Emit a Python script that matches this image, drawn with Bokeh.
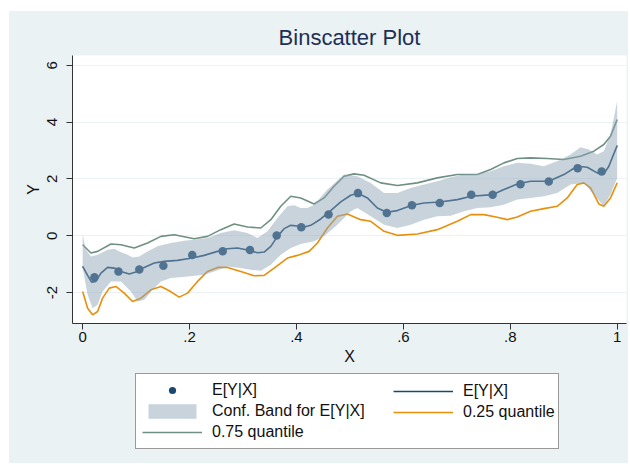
from bokeh.plotting import figure
from bokeh.layouts import column
from bokeh.models import Legend, LegendItem, FixedTicker, Range1d
from bokeh.embed import file_html
from bokeh.resources import INLINE

# ---- data ----
bin_x = [0.022, 0.067, 0.106, 0.151, 0.205, 0.262, 0.313, 0.363, 0.409, 0.460,
         0.515, 0.569, 0.616, 0.668, 0.727, 0.767, 0.819, 0.872, 0.926, 0.971]
bin_y = [-1.46, -1.26, -1.19, -1.06, -0.68, -0.55, -0.50, 0.01, 0.30, 0.75,
         1.50, 0.80, 1.07, 1.15, 1.44, 1.44, 1.81, 1.91, 2.38, 2.26]

line_x = [0.0, 0.0093, 0.0167, 0.0248, 0.0342, 0.0467, 0.0591, 0.0716, 0.0872, 0.0996,
          0.1152, 0.1339, 0.1526, 0.1775, 0.2049, 0.2274, 0.2523, 0.2710, 0.2897, 0.3084,
          0.3271, 0.3395, 0.3520, 0.3645, 0.3769, 0.3894, 0.4018, 0.4143, 0.4267, 0.4454,
          0.4641, 0.4828, 0.5015, 0.5152, 0.5326, 0.5513, 0.5688, 0.5887, 0.6161, 0.6386,
          0.6685, 0.7009, 0.7270, 0.7675, 0.7881, 0.8130, 0.8379, 0.8722, 0.9002, 0.9252,
          0.9439, 0.9625, 0.9750, 0.9844, 0.9906, 1.0]
line_y = [-1.080, -1.397, -1.632, -1.609, -1.315, -1.115, -1.139, -1.257, -1.350, -1.280,
          -1.115, -0.962, -0.904, -0.868, -0.786, -0.692, -0.551, -0.457, -0.433, -0.504,
          -0.598, -0.574, -0.374, -0.022, 0.249, 0.366, 0.343, 0.308, 0.366, 0.590,
          0.884, 1.189, 1.425, 1.495, 1.331, 0.978, 0.825, 0.884, 1.072, 1.154,
          1.189, 1.272, 1.389, 1.448, 1.624, 1.824, 1.918, 1.918, 2.153, 2.447,
          2.412, 2.212, 2.177, 2.447, 2.741, 3.177]

cb_up_x = [0.0, 0.0062, 0.0155, 0.0280, 0.0467, 0.0591, 0.0685, 0.0840, 0.0934, 0.1059,
           0.1214, 0.1401, 0.1650, 0.1900, 0.2087, 0.2336, 0.2585, 0.2834, 0.3084, 0.3271,
           0.3457, 0.3645, 0.3831, 0.3956, 0.4080, 0.4205, 0.4330, 0.4579, 0.4890, 0.5139,
           0.5389, 0.5638, 0.5887, 0.6136, 0.6386, 0.6635, 0.6884, 0.7133, 0.7383, 0.7632,
           0.7881, 0.8130, 0.8379, 0.8628, 0.8878, 0.9127, 0.9314, 0.9470, 0.9625, 0.9750,
           0.9875, 1.0]
cb_up_y = [0.037, -0.492, -0.727, -0.668, -0.492, -0.457, -0.551, -0.668, -0.763, -0.727,
           -0.551, -0.374, -0.257, -0.175, -0.139, -0.080, 0.096, 0.190, 0.096, -0.080,
           0.155, 0.625, 1.037, 1.072, 0.978, 0.978, 1.095, 1.624, 2.153, 2.095,
           1.860, 1.507, 1.507, 1.683, 1.801, 1.918, 2.060, 2.153, 2.177, 2.271,
           2.447, 2.565, 2.530, 2.447, 2.624, 2.859, 3.118, 3.035, 2.859, 2.977,
           3.565, 4.740]

cb_lo_x = [0.0, 0.0093, 0.0186, 0.0280, 0.0373, 0.0529, 0.0716, 0.0903, 0.1027, 0.1152,
           0.1339, 0.1464, 0.1650, 0.1962, 0.2274, 0.2460, 0.2710, 0.2959, 0.3146, 0.3333,
           0.3520, 0.3706, 0.3894, 0.4080, 0.4330, 0.4516, 0.4766, 0.5015, 0.5139, 0.5389,
           0.5638, 0.5887, 0.6136, 0.6386, 0.6635, 0.6884, 0.7133, 0.7383, 0.7632, 0.7881,
           0.8130, 0.8379, 0.8628, 0.8878, 0.9127, 0.9376, 0.9563, 0.9750, 0.9875, 1.0]
cb_lo_y = [-1.139, -2.079, -2.550, -2.432, -1.962, -1.609, -1.609, -1.962, -2.315, -2.256,
           -1.844, -1.609, -1.491, -1.433, -1.374, -1.257, -1.080, -1.139, -1.198, -1.233,
           -1.021, -0.668, -0.433, -0.292, -0.198, -0.022, 0.389, 0.860, 0.978, 0.684,
           0.389, 0.272, 0.389, 0.566, 0.684, 0.707, 0.860, 0.978, 1.001, 1.095,
           1.272, 1.331, 1.389, 1.507, 1.801, 1.860, 1.448, 1.037, 1.448, 2.036]

q75_x = [0.0, 0.0155, 0.0280, 0.0529, 0.0716, 0.0965, 0.1214, 0.1464, 0.1713, 0.2087,
         0.2336, 0.2585, 0.2834, 0.3084, 0.3333, 0.3520, 0.3706, 0.3894, 0.4080, 0.4330,
         0.4516, 0.4703, 0.4890, 0.5077, 0.5264, 0.5576, 0.5887, 0.6261, 0.6635, 0.7009,
         0.7383, 0.7632, 0.7881, 0.8130, 0.8379, 0.8691, 0.9002, 0.9314, 0.9563, 0.9750,
         0.9875, 1.0]
q75_y = [-0.316, -0.609, -0.551, -0.292, -0.316, -0.433, -0.257, -0.022, 0.037, -0.104,
         -0.022, 0.214, 0.413, 0.308, 0.272, 0.566, 1.037, 1.389, 1.331, 1.119,
         1.331, 1.742, 2.095, 2.177, 2.130, 1.860, 1.766, 1.860, 2.036, 2.153,
         2.153, 2.330, 2.565, 2.718, 2.741, 2.718, 2.683, 2.800, 2.977, 3.212,
         3.506, 4.094]

q25_x = [0.0, 0.0093, 0.0186, 0.0280, 0.0373, 0.0498, 0.0622, 0.0778, 0.0934, 0.1090,
         0.1277, 0.1464, 0.1619, 0.1806, 0.1962, 0.2149, 0.2336, 0.2523, 0.2710, 0.2959,
         0.3208, 0.3395, 0.3582, 0.3831, 0.4018, 0.4236, 0.4392, 0.4579, 0.4766, 0.4952,
         0.5202, 0.5389, 0.5638, 0.5887, 0.6261, 0.6635, 0.7009, 0.7258, 0.7507, 0.7756,
         0.7943, 0.8130, 0.8379, 0.8628, 0.8878, 0.9065, 0.9252, 0.9376, 0.9501, 0.9657,
         0.9750, 0.9875, 1.0]
q25_y = [-1.962, -2.550, -2.785, -2.667, -2.197, -1.844, -1.785, -2.020, -2.315, -2.197,
         -1.903, -1.785, -1.938, -2.161, -2.020, -1.609, -1.257, -1.115, -1.115, -1.257,
         -1.409, -1.397, -1.139, -0.786, -0.692, -0.551, -0.257, 0.272, 0.684, 0.766,
         0.566, 0.507, 0.155, 0.014, 0.061, 0.214, 0.507, 0.743, 0.743, 0.649,
         0.566, 0.660, 0.860, 0.954, 1.037, 1.331, 1.801, 1.860, 1.683, 1.119,
         1.037, 1.331, 1.860]

x_ticks = [0, 0.2, 0.4, 0.6, 0.8, 1]
x_tick_labels = ["0", ".2", ".4", ".6", ".8", "1"]
y_ticks = [-2, 0, 2, 4, 6]
y_tick_labels = ["-2", "0", "2", "4", "6"]

labels = ["E[Y|X]", "E[Y|X]", "Conf. Band for E[Y|X]", "0.25 quantile", "0.75 quantile"]

# ---- styling ----
BG = "#EAF2F3"
NAVY = "#1A476F"
ORANGE = "#E8900C"
GREEN = "#6F9082"
BAND = "#8CA3B6"
FONT = "Liberation Sans"
AXC = "#333333"
TXT = "#111111"

band_x = cb_up_x + cb_lo_x[::-1]
band_y = cb_up_y + cb_lo_y[::-1]

p = figure(width=619, height=359, output_backend="svg", toolbar_location=None,
           x_range=Range1d(-0.019, 1.0174), y_range=Range1d(-3.09, 6.345),
           min_border_left=63, min_border_right=2, min_border_top=44, min_border_bottom=47,
           background_fill_color="white", border_fill_color=BG, outline_line_color=None)

p.title.text = "Binscatter Plot"
p.title.align = "center"
p.title.text_font = FONT
p.title.text_font_size = "22px"
p.title.text_font_style = "normal"
p.title.text_color = "#1E2E55"
p.title.standoff = 11

band_style = dict(fill_color=BAND, fill_alpha=0.48, line_alpha=0)
dot_style = dict(size=8.5, fill_color=NAVY, line_color=NAVY, line_width=0)
q75_style = dict(line_color=GREEN, line_width=1.6)
q25_style = dict(line_color=ORANGE, line_width=1.6)
fit_style = dict(line_color=NAVY, line_width=1.6)

p.line(q75_x, q75_y, **q75_style)
p.line(q25_x, q25_y, **q25_style)
p.scatter(bin_x, bin_y, **dot_style)
p.line(line_x, line_y, **fit_style)
p.patch(band_x, band_y, **band_style)

for ax in (p.xaxis[0], p.yaxis[0]):
    ax.axis_line_color = AXC
    ax.major_tick_line_color = AXC
    ax.major_tick_out = 6
    ax.major_tick_in = 0
    ax.minor_tick_line_color = None
    ax.major_label_text_font = FONT
    ax.major_label_text_font_size = "15px"
    ax.major_label_text_color = TXT
    ax.axis_label_text_font = FONT
    ax.axis_label_text_font_size = "16px"
    ax.axis_label_text_font_style = "normal"
    ax.axis_label_text_color = TXT

p.xaxis.ticker = FixedTicker(ticks=x_ticks)
p.xaxis.major_label_overrides = dict(zip(x_ticks, x_tick_labels))
p.xaxis.axis_label = "X"
p.xaxis.major_label_standoff = 2
p.xaxis.axis_label_standoff = 3

p.yaxis.ticker = FixedTicker(ticks=y_ticks)
p.yaxis.major_label_overrides = dict(zip(y_ticks, y_tick_labels))
p.yaxis.major_label_orientation = "vertical"
p.yaxis.axis_label = "Y"
p.yaxis.major_label_standoff = 9
p.yaxis.axis_label_standoff = 3

p.xgrid.grid_line_color = None
p.ygrid.grid_line_color = BG
p.ygrid.grid_line_width = 1.2
p.ygrid.ticker = FixedTicker(ticks=y_ticks)

# ---- legend strip below the plot (its own keys, data kept out of view) ----
lf = figure(width=619, height=93, output_backend="svg", toolbar_location=None,
            x_range=Range1d(2, 3), y_range=Range1d(20, 21),
            x_axis_type=None, y_axis_type=None,
            min_border_left=0, min_border_right=0, min_border_top=0, min_border_bottom=0,
            background_fill_alpha=0, border_fill_alpha=0, outline_line_color=None)
lf.grid.visible = False

k_dots = lf.scatter(bin_x, bin_y, **dot_style)
k_band = lf.patch(band_x, band_y, **band_style)
k_q75 = lf.line(q75_x, q75_y, **q75_style)
k_line = lf.line(line_x, line_y, **fit_style)
k_q25 = lf.line(q25_x, q25_y, **q25_style)


def style_legend(lg):
    lg.label_text_font = FONT
    lg.label_text_font_size = "16px"
    lg.label_text_color = TXT
    lg.glyph_width = 60
    lg.glyph_height = 18
    lg.label_height = 20
    lg.label_standoff = 10
    lg.spacing = 1
    lg.padding = 6
    lg.margin = 0


# column 1 carries the framed box, widened to the full legend width
legend_a = Legend(items=[
    LegendItem(label=labels[0], renderers=[k_dots]),
    LegendItem(label=labels[2], renderers=[k_band]),
    LegendItem(label=labels[4], renderers=[k_q75]),
], location=(63, 14))
style_legend(legend_a)
legend_a.label_width = 340
legend_a.border_line_color = AXC
legend_a.border_line_width = 1
legend_a.background_fill_color = "white"
legend_a.background_fill_alpha = 1

# column 2 is drawn over the same box
legend_b = Legend(items=[
    LegendItem(label=labels[1], renderers=[k_line]),
    LegendItem(label=labels[3], renderers=[k_q25]),
], location=(315, 35))
style_legend(legend_b)
legend_b.border_line_alpha = 0
legend_b.background_fill_alpha = 0

lf.add_layout(legend_a, "center")
lf.add_layout(legend_b, "center")

layout = column(p, lf, spacing=0, margin=(11, 0, 0, 9),
                styles={"background-color": BG})

open("out.html", "w").write(file_html(layout, INLINE))
